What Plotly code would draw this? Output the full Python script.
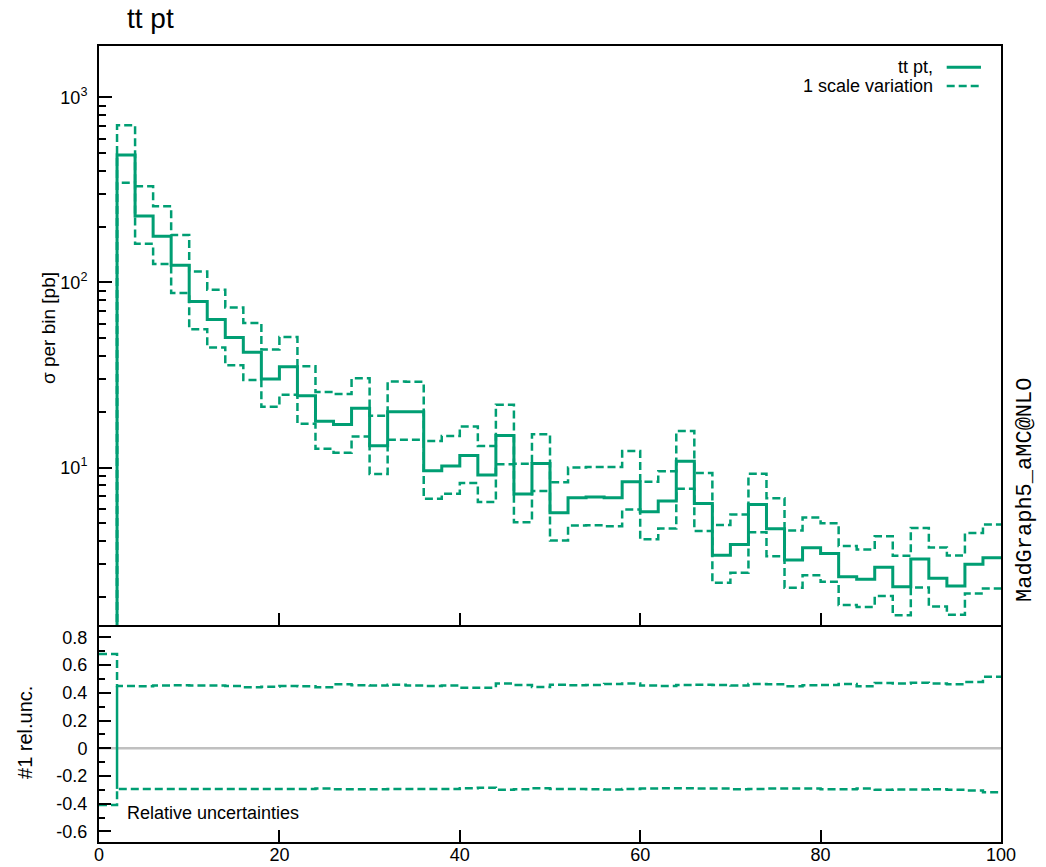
import plotly.graph_objects as go

# ---- data ----
bin_edges = list(range(0, 102, 2))  # 0,2,...,100
central = [0.6, 489, 229, 178, 124, 79, 63, 50.5, 42, 30.1,
           35.0, 24.4, 17.8, 17.1, 20.9, 13.1, 20.0, 20.0, 9.6, 10.2,
           11.6, 9.1, 14.9, 7.2, 10.5, 5.7, 6.87, 6.92, 6.87, 8.38,
           5.77, 6.59, 10.8, 6.4, 3.36, 3.84, 6.32, 4.67, 3.16, 3.69,
           3.43, 2.57, 2.49, 2.89, 2.27, 3.2, 2.52, 2.29, 3.0, 3.25]
rel_up = [0.68, 0.449, 0.447, 0.452, 0.454, 0.452, 0.452, 0.449, 0.440, 0.444,
          0.449, 0.447, 0.440, 0.461, 0.454, 0.452, 0.459, 0.452, 0.449, 0.452,
          0.437, 0.437, 0.468, 0.457, 0.442, 0.459, 0.454, 0.457, 0.464, 0.468,
          0.452, 0.449, 0.457, 0.459, 0.457, 0.452, 0.464, 0.461, 0.447, 0.454,
          0.457, 0.464, 0.447, 0.471, 0.468, 0.473, 0.468, 0.461, 0.478, 0.516]
rel_down = [-0.41, -0.293, -0.293, -0.293, -0.293, -0.293, -0.293, -0.293, -0.293, -0.293,
            -0.293, -0.293, -0.291, -0.296, -0.296, -0.295, -0.293, -0.293, -0.293, -0.293,
            -0.289, -0.284, -0.300, -0.296, -0.289, -0.293, -0.293, -0.296, -0.298, -0.293,
            -0.291, -0.289, -0.289, -0.291, -0.291, -0.296, -0.293, -0.291, -0.291, -0.291,
            -0.296, -0.296, -0.291, -0.300, -0.298, -0.298, -0.296, -0.300, -0.305, -0.317]
x_ticks = [0, 20, 40, 60, 80, 100]
y_top_ticks = [10, 100, 1000]
y_top_ticktext = ["10<sup>1</sup>", "10<sup>2</sup>", "10<sup>3</sup>"]
y_bot_ticks = [-0.6, -0.4, -0.2, 0, 0.2, 0.4, 0.6, 0.8]
y_bot_ticktext = ["-0.6", "-0.4", "-0.2", "0", "0.2", "0.4", "0.6", "0.8"]

GREEN = "#009e73"
FONT = "Liberation Sans, Arial, sans-serif"

upper = [c * (1 + u) for c, u in zip(central, rel_up)]
lower = [c * (1 + d) for c, d in zip(central, rel_down)]


def steps(vals):
    return vals + [vals[-1]]


fig = go.Figure()
dash = "8px,4px"
# top panel
fig.add_trace(go.Scatter(x=bin_edges, y=steps(upper), mode="lines", line_shape="hv",
                         line=dict(color=GREEN, width=2.5, dash=dash), xaxis="x", yaxis="y"))
fig.add_trace(go.Scatter(x=bin_edges, y=steps(lower), mode="lines", line_shape="hv",
                         line=dict(color=GREEN, width=2.5, dash=dash), xaxis="x", yaxis="y"))
fig.add_trace(go.Scatter(x=bin_edges, y=steps(central), mode="lines", line_shape="hv",
                         line=dict(color=GREEN, width=3), xaxis="x", yaxis="y"))

# bottom panel
fig.add_trace(go.Scatter(x=[0, 100], y=[0, 0], mode="lines",
                         line=dict(color="#c0c0c0", width=2.5), xaxis="x2", yaxis="y2"))
fig.add_trace(go.Scatter(x=[bin_edges[1], bin_edges[1]], y=[rel_up[1], rel_down[1]], mode="lines",
                         line=dict(color=GREEN, width=2.5), xaxis="x2", yaxis="y2"))
fig.add_trace(go.Scatter(x=bin_edges, y=steps(rel_up), mode="lines", line_shape="hv",
                         line=dict(color=GREEN, width=2.5, dash=dash), xaxis="x2", yaxis="y2"))
fig.add_trace(go.Scatter(x=bin_edges, y=steps(rel_down), mode="lines", line_shape="hv",
                         line=dict(color=GREEN, width=2.5, dash=dash), xaxis="x2", yaxis="y2"))

split = 0.2726
axis_base = dict(showline=True, linecolor="black", linewidth=2,
                 ticks="inside", tickcolor="black", tickwidth=2, showgrid=False,
                 zeroline=False, automargin=False,
                 tickfont=dict(family=FONT, size=18, color="black"))

minor_vals = [m * 10 ** e for e in range(0, 4) for m in range(2, 10)]

fig.update_layout(
    width=1046, height=867,
    margin=dict(l=99, r=45, t=46, b=25, autoexpand=False),
    paper_bgcolor="white", plot_bgcolor="white",
    showlegend=False,
    xaxis=dict(range=[0, 100], domain=[0, 1], anchor="y", tickvals=x_ticks,
               showticklabels=False, ticklen=12, mirror=True, **axis_base),
    yaxis=dict(type="log", range=[0.149, 3.278], domain=[split, 1], anchor="x",
               tickvals=y_top_ticks, ticktext=y_top_ticktext, ticklen=13,
               ticklabelstandoff=6, mirror=True,
               minor=dict(ticks="inside", tickvals=minor_vals, ticklen=7,
                          tickcolor="black", tickwidth=2, showgrid=False),
               **axis_base),
    xaxis2=dict(range=[0, 100], domain=[0, 1], anchor="y2", tickvals=x_ticks,
                ticktext=[str(v) for v in x_ticks], ticklen=12,
                ticklabelstandoff=-5, mirror=False, **axis_base),
    yaxis2=dict(range=[-0.676, 0.889], domain=[0, split], anchor="x2",
                tickvals=y_bot_ticks, ticktext=y_bot_ticktext, ticklen=12,
                ticklabelstandoff=6, mirror=True,
                minor=dict(ticks="inside", dtick=0.1, tick0=0, ticklen=6,
                           tickcolor="black", tickwidth=2, showgrid=False),
                **axis_base),
)

ann_font = dict(family=FONT, color="black")
annotations = [
    dict(text="tt pt", x=0.0288, y=1.035, xanchor="left", yanchor="middle",
         font=dict(size=28, **ann_font)),
    dict(text="σ per bin [pb]", x=-0.0565, y=0.6457, textangle=-90,
         xanchor="center", yanchor="middle", font=dict(size=19, **ann_font)),
    dict(text="#1 rel.unc.", x=-0.082, y=0.137, textangle=-90,
         xanchor="center", yanchor="middle", font=dict(size=20, **ann_font)),
    dict(text="MadGraph5_aMC@NLO", x=1.0266, y=0.4422, textangle=-90,
         xanchor="center", yanchor="middle",
         font=dict(family="Liberation Mono, Courier New, monospace", size=22, color="black")),
    dict(text="Relative uncertainties", x=0.0288, y=0.0364, xanchor="left",
         yanchor="middle", font=dict(size=18, **ann_font)),
    dict(text="tt pt,", x=0.9268, y=0.9732, xanchor="right", yanchor="middle",
         font=dict(size=18, **ann_font)),
    dict(text="1 scale variation", x=0.9268, y=0.9497, xanchor="right", yanchor="middle",
         font=dict(size=18, **ann_font)),
]
for a in annotations:
    a.update(xref="paper", yref="paper", showarrow=False)
fig.update_layout(annotations=annotations)

fig.add_shape(type="line", xref="paper", yref="paper", x0=0.9398, x1=0.9778,
              y0=0.9732, y1=0.9732, line=dict(color=GREEN, width=3))
fig.add_shape(type="line", xref="paper", yref="paper", x0=0.9398, x1=0.9778,
              y0=0.9497, y1=0.9497, line=dict(color=GREEN, width=2.5, dash=dash))

fig.write_html("out.html")
